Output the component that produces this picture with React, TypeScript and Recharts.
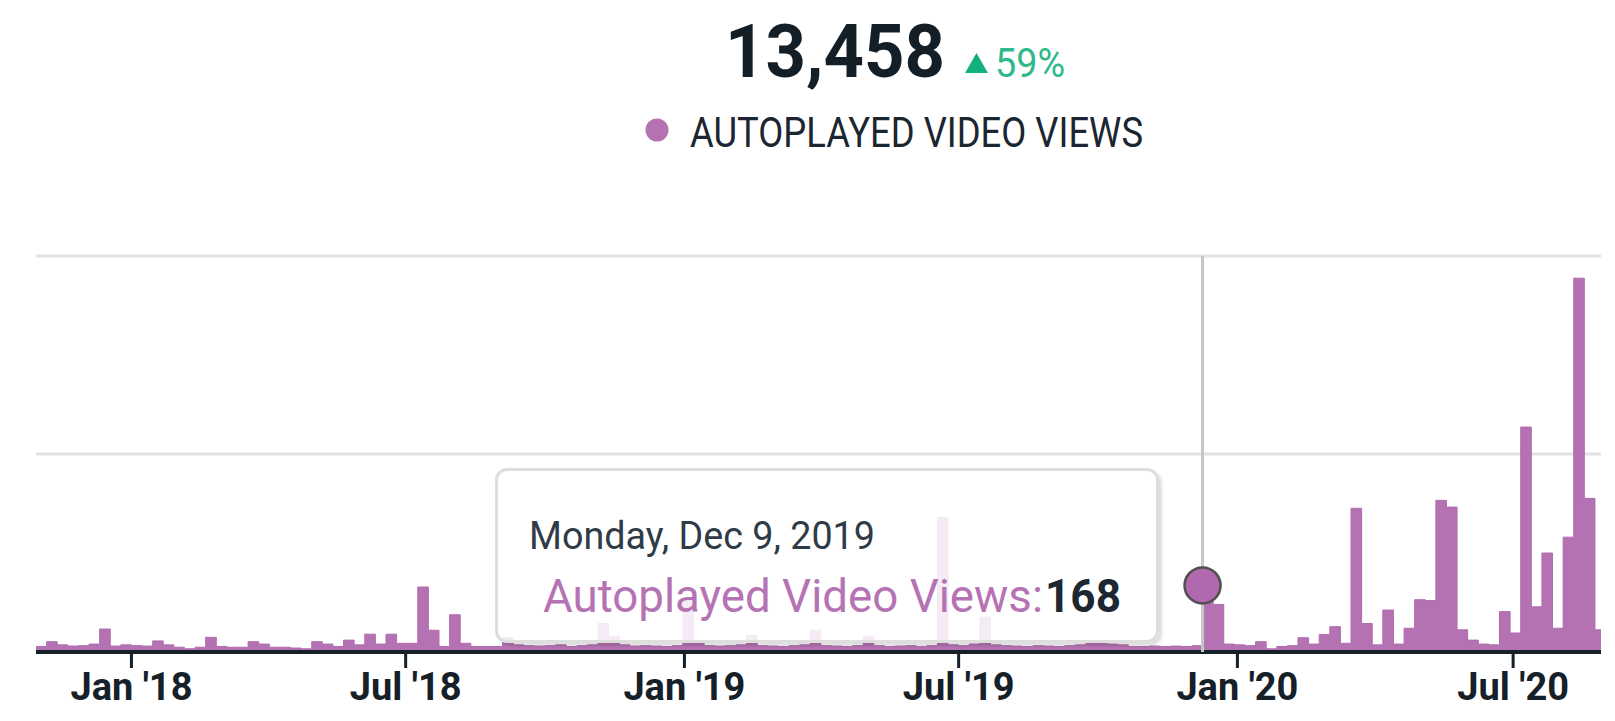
import React from 'react';
import { AreaChart, Area, XAxis, YAxis, CartesianGrid, Tooltip } from 'recharts';

const DAY = 86400000;
const FIRST_WEEK = Date.UTC(2017, 9, 30); // Monday, Oct 30 2017
const AXIS_END = Date.UTC(2020, 7, 28);

// Weekly autoplayed video views (weeks starting Monday)
const values2017 = [14, 26, 18, 15, 16, 20, 58, 15, 18];
const values2018 = [
  16, 15, 28, 18, 12, 8, 12, 37, 14, 12, 12, 26, 20, 12, 12, 10, 8, 26, 20, 14,
  30, 18, 45, 20, 45, 22, 22, 164, 55, 14, 94, 22, 14, 14, 14, 36, 18, 16, 15, 16,
  18, 14, 16, 18, 72, 40, 18, 15, 16, 15, 14, 16, 130,
];
const values2019 = [
  22, 16, 15, 16, 18, 42, 16, 15, 14, 16, 18, 55, 16, 15, 14, 16, 40, 16, 14, 15,
  16, 14, 16, 340, 18, 16, 20, 88, 18, 16, 15, 14, 16, 15, 14, 16, 18, 22, 22, 20,
  18, 14, 14, 15, 14, 15, 14, 16, 168, 120, 20, 18,
];
const values2020 = [
  16, 26, 8, 14, 16, 36, 20, 44, 64, 22, 363, 72, 18, 106, 20, 60, 132, 130, 383, 366,
  56, 30, 20, 18, 102, 48, 568, 114, 250, 60, 290, 944, 388, 56, 56,
];

const tickDates = [
  Date.UTC(2018, 0, 1),
  Date.UTC(2018, 6, 1),
  Date.UTC(2019, 0, 1),
  Date.UTC(2019, 6, 1),
  Date.UTC(2020, 0, 1),
  Date.UTC(2020, 6, 1),
];
const tickLabels = ["Jan '18", "Jul '18", "Jan '19", "Jul '19", "Jan '20", "Jul '20"];
const yTicks = [0, 500, 1000];

const totalViews = 13458;
const changePct = 59;
const seriesName = 'Autoplayed Video Views';
const highlightedIndex = 110;

const weekdayNames = ['Sunday', 'Monday', 'Tuesday', 'Wednesday', 'Thursday', 'Friday', 'Saturday'];
const monthNames = ['Jan', 'Feb', 'Mar', 'Apr', 'May', 'Jun', 'Jul', 'Aug', 'Sep', 'Oct', 'Nov', 'Dec'];

const allValues = [...values2017, ...values2018, ...values2019, ...values2020];
const data = allValues.map((v, i) => ({ t: FIRST_WEEK + i * 7 * DAY, views: v }));

const FONT = 'Roboto, "Noto Sans", sans-serif';
const PURPLE = '#b572b2';
const DARK = '#152029';

const AxisTick = (props: any) => {
  const { x, y, payload } = props;
  const idx = tickDates.indexOf(payload.value);
  return (
    <text x={x} y={y} dy={30} textAnchor="middle" fontFamily={FONT} fontWeight={700} fontSize={38} fill={DARK}>
      {idx >= 0 ? tickLabels[idx] : ''}
    </text>
  );
};

const TipContent = (props: any) => {
  const { active, payload } = props;
  if (!active || !payload || !payload.length) return null;
  const p = payload[0].payload;
  const d = new Date(p.t);
  const dateStr = `${weekdayNames[d.getUTCDay()]}, ${monthNames[d.getUTCMonth()]} ${d.getUTCDate()}, ${d.getUTCFullYear()}`;
  return (
    <div
      style={{
        width: 664,
        height: 175,
        boxSizing: 'border-box',
        background: 'rgba(255,255,255,0.86)',
        border: '3px solid #dedede',
        borderRadius: 12,
        boxShadow: '3px 3px 3px rgba(0,0,0,0.13)',
        position: 'relative',
      }}
    >
      <svg width={664} height={175} style={{ position: 'absolute', left: -3, top: -3, overflow: 'visible' }}>
        <text x={34} y={81} fontFamily={FONT} fontSize={38} fill="#2f3b47" textLength={346} lengthAdjust="spacingAndGlyphs">
          {dateStr}
        </text>
        <text x={48} y={144} fontFamily={FONT} fontSize={46} fill="#b673b4" textLength={500} lengthAdjust="spacingAndGlyphs">
          {seriesName + ':'}
        </text>
        <text x={550} y={144} fontFamily={FONT} fontSize={46} fontWeight={700} fill="#1c2731" textLength={76} lengthAdjust="spacingAndGlyphs">
          {String(p.views)}
        </text>
      </svg>
    </div>
  );
};

export default function App() {
  return (
    <div style={{ position: 'relative', width: 1598, height: 705, background: '#fff' }}>
      <AreaChart
        width={1598}
        height={705}
        data={data}
        margin={{ top: 248, right: 5, left: 28, bottom: 0 }}
      >
        <CartesianGrid vertical={false} stroke="#e2e2e2" strokeWidth={3} horizontalValues={[500, 1000]} />
        <YAxis hide domain={[0, 1000]} ticks={yTicks} />
        <XAxis
          type="number"
          dataKey="t"
          domain={[FIRST_WEEK, AXIS_END]}
          allowDataOverflow
          ticks={tickDates}
          interval={0}
          height={61}
          tickSize={16}
          tickLine={{ stroke: DARK, strokeWidth: 3 }}
          axisLine={{ stroke: DARK, strokeWidth: 4 }}
          tick={<AxisTick />}
        />
        <Tooltip
          active
          defaultIndex={highlightedIndex}
          position={{ x: 487, y: 460 }}
          cursor={{ stroke: '#c6c6c6', strokeWidth: 3 }}
          isAnimationActive={false}
          content={<TipContent />}
          wrapperStyle={{ outline: 'none' }}
        />
        <Area
          type="stepAfter"
          dataKey="views"
          name={seriesName}
          stroke="#b06cae"
          strokeWidth={1}
          fill={PURPLE}
          fillOpacity={1}
          dot={false}
          activeDot={{ r: 18, fill: '#b068ae', stroke: '#505050', strokeWidth: 2.5 }}
          isAnimationActive={false}
        />
      </AreaChart>
      <svg width={1598} height={200} style={{ position: 'absolute', left: 0, top: 0, pointerEvents: 'none' }}>
        <text x={717} y={69} fontFamily={FONT} fontWeight={700} fontSize={75} fill="#131e27" textLength={220} lengthAdjust="spacingAndGlyphs">
          {totalViews.toLocaleString('en-US')}
        </text>
        <polygon points="968.5,45 957,65 980,65" fill="#12b07f" />
        <text x={987} y={69} fontFamily={FONT} fontSize={41} fill="#2db98a" textLength={70} lengthAdjust="spacingAndGlyphs">
          {changePct + '%'}
        </text>
        <circle cx={649} cy={122} r={11.5} fill={PURPLE} />
        <text x={682} y={139} fontFamily={FONT} fontSize={42} fill="#1b2630" textLength={453} lengthAdjust="spacingAndGlyphs">
          {seriesName.toUpperCase()}
        </text>
      </svg>
    </div>
  );
}
